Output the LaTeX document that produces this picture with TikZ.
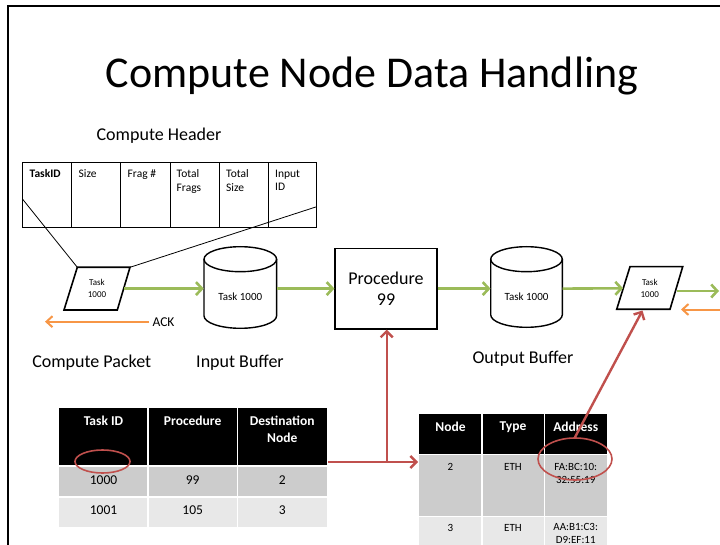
\documentclass[tikz,border=0pt]{standalone}
\usepackage{fontspec}
\setmainfont{Carlito}
\usetikzlibrary{arrows.meta,shapes.geometric}
\definecolor{grn}{RGB}{155,187,89}
\definecolor{org}{RGB}{247,150,70}
\definecolor{rd}{RGB}{192,80,77}
\definecolor{rowA}{RGB}{204,204,204}
\definecolor{rowB}{RGB}{232,232,232}
\begin{document}
\begin{tikzpicture}[x=1pt,y=-1pt,
  garrow/.style={draw=grn,line width=2.6pt,-{Straight Barb[length=6pt,width=13pt]}},
  oarrow/.style={draw=org,line width=2pt,-{Straight Barb[length=6pt,width=11pt]}},
  rline/.style={draw=rd,line width=2.4pt},
  rarrow/.style={rline,-{Straight Barb[length=6pt,width=12pt]}},
  redell/.style={ellipse,draw=rd,line width=1.6pt,inner sep=0pt},
  ghost/.style={rectangle,inner sep=0pt},
  big/.style={font=\fontsize{18}{21}\selectfont,align=center},
  small/.style={font=\fontsize{9}{11.5}\selectfont,align=center},
  mid/.style={font=\fontsize{11}{13}\selectfont,align=center},
  hcell/.style={font=\fontsize{11.5}{13.5}\selectfont,align=left,anchor=north west,inner sep=0pt},
  thead/.style={font=\bfseries\fontsize{13.5}{16.7}\selectfont,text=white,align=center,inner sep=0pt},
  tcell/.style={font=\fontsize{13.5}{16}\selectfont,inner sep=0pt},
  tcellb/.style={font=\fontsize{11}{13}\selectfont,align=center,inner sep=0pt},
  sep/.style={draw=white,line width=1.5pt},
  shapeline/.style={draw=black,line width=1.4pt},
]
\useasboundingbox (0,0) rectangle (720,545);

% frame
\draw[line width=1.8pt] (8,546) -- (8,6) -- (721,6);

% title
\node (title) at (372,76) {\fontsize{44}{50}\selectfont Compute Node Data Handling};

% compute header
\node[big] (hlabel) at (159,136) {Compute Header};
\draw[line width=1pt] (22.7,162.3) rectangle (316.7,227.7);
\foreach \cx in {71.7,120.7,170,219,268.3} \draw[line width=1pt] (\cx,162.3) -- (\cx,227.7);
\node[hcell,font=\bfseries\fontsize{11.5}{13.5}\selectfont] (c1) at (29.5,169.5) {TaskID};
\node[hcell] (c2) at (78.5,169.5) {Size};
\node[hcell] (c3) at (127.5,169.5) {Frag \#};
\node[hcell] (c4) at (176.5,169.5) {Total\\Frags};
\node[hcell] (c5) at (226,169.5) {Total\\Size};
\node[hcell] (c6) at (275,169.5) {Input\\ID};

% compute packet
\coordinate (pkTL) at (77.3,267.3);
\coordinate (pkTR) at (130,267.3);
\coordinate (pkBR) at (117.3,310);
\coordinate (pkBL) at (64,310);
\coordinate (hL) at (22.7,199.3);
\coordinate (hR) at (316.7,206.7);
\draw[line width=0.8pt] (hL) -- (pkTL);
\draw[line width=0.8pt] (hR) -- (pkTR);
\draw[line width=1.6pt] (pkTL) -- (pkTR) -- (pkBR) -- (pkBL) -- cycle;
\node[ghost,small,minimum width=53,minimum height=42.7] (pk) at (97,288.6) {Task\\1000};

% input buffer
\node[ghost,minimum width=72.7,minimum height=81.6] (ib) at (240.3,288.6) {};
\draw[shapeline] (204,259.2) -- (204,315.8) arc[start angle=180,end angle=0,x radius=36.3,y radius=12.5] -- (276.6,259.2);
\draw[shapeline] (240.3,259.2) ellipse[x radius=36.3,y radius=12.5];
\node[mid] (ibt) at (240.3,297) {Task 1000};

% procedure
\node[draw,line width=1.4pt,big,minimum width=101.7,minimum height=80.7,inner sep=0pt] (proc) at (386,288.6) {Procedure\\99};

% output buffer
\node[ghost,minimum width=71.6,minimum height=80.6] (ob) at (526.5,288.6) {};
\draw[shapeline] (490.7,259.2) -- (490.7,314.8) arc[start angle=180,end angle=0,x radius=35.8,y radius=12.5] -- (562.3,259.2);
\draw[shapeline] (526.5,259.2) ellipse[x radius=35.8,y radius=12.5];
\node[mid] (obt) at (526.5,297) {Task 1000};

% output packet
\coordinate (opTL) at (630,266.7);
\coordinate (opTR) at (682.7,266.7);
\coordinate (opBR) at (670,309.3);
\coordinate (opBL) at (616.7,309.3);
\draw[line width=1.6pt] (opTL) -- (opTR) -- (opBR) -- (opBL) -- cycle;
\node[ghost,small,minimum width=53,minimum height=42.6] (op) at (649.8,288.3) {Task\\1000};

% green flow
\draw[garrow] (pk.east) -- (ib.west);
\draw[garrow] (ib.east) -- (proc.west);
\draw[garrow] (proc.east) -- (ob.west);
\draw[garrow] (ob.east) -- (op.west);
\coordinate (outR) at (719,291);
\draw[garrow] (op.east |- outR) -- (outR);

% orange acks
\coordinate (ackR) at (721,309.5);
\coordinate (ackRend) at (681,309.5);
\draw[oarrow] (ackR) -- (ackRend);
\node[font=\fontsize{13.5}{16}\selectfont] (ack) at (163.5,322) {ACK};
\coordinate (ackL) at (45,321.7);
\draw[oarrow] (ack.west |- ackL) -- (ackL);

% labels
\node[big] (lpk) at (91.7,362.7) {Compute Packet};
\node[big] (lib) at (240,362.7) {Input Buffer};
\node[big] (lob) at (523,359) {Output Buffer};

% table 1
\fill[black] (59,408) rectangle (327,466);
\fill[rowA] (59,466) rectangle (327,497);
\fill[rowB] (59,497) rectangle (327,527);
\draw[sep] (59,466) -- (327,466);
\draw[sep] (59,497) -- (327,497);
\draw[sep,line width=1.1pt] (148,408) -- (148,527);
\draw[sep,line width=1.1pt] (237.5,408) -- (237.5,527);
\node[thead] (t1h1) at (103.5,421) {Task ID};
\node[thead] (t1h2) at (192.7,421) {Procedure};
\node[thead] (t1h3) at (282.2,429.4) {Destination\\Node};
\node[tcell] (t1a1) at (103.5,480) {1000};
\node[tcell] (t1a2) at (192.7,480) {99};
\node[tcell] (t1a3) at (282.2,480) {2};
\node[tcell] (t1b1) at (103.5,510) {1001};
\node[tcell] (t1b2) at (192.7,510) {105};
\node[tcell] (t1b3) at (282.2,510) {3};

% table 2
\fill[black] (419,414) rectangle (607,454);
\fill[rowA] (419,454) rectangle (607,516);
\fill[rowB] (419,516) rectangle (607,546);
\draw[sep] (419,454.5) -- (607,454.5);
\draw[sep] (419,516.5) -- (607,516.5);
\draw[sep,line width=1.1pt] (482,414) -- (482,546);
\draw[sep,line width=1.1pt] (544.3,414) -- (544.3,546);
\node[thead] (t2h1) at (450.5,426.7) {Node};
\node[thead] (t2h2) at (513,426.7) {Type};
\node[thead] (t2h3) at (575.7,426.7) {Address};
\node[tcellb] (t2a1) at (450.5,466.7) {2};
\node[tcellb] (t2a2) at (513,466.7) {ETH};
\node[tcellb] (t2a3) at (575.7,473.5) {FA:BC:10:\\32:55:19};
\node[tcellb] (t2b1) at (450.5,527.7) {3};
\node[tcellb] (t2b2) at (513,527.7) {ETH};
\node[tcellb] (t2b3) at (575.7,533.5) {AA:B1:C3:\\D9:EF:11};

% red lookup arrows
\node[redell,minimum width=55,minimum height=23] (e1) at (102.5,461.5) {};
\node[redell,minimum width=74,minimum height=42] (e2) at (575,459) {};
\coordinate (t1r) at (328,462);
\coordinate (jn) at (386.7,462);
\coordinate (t2l) at (418,462);
\coordinate (opin) at (642.5,310.5);
\draw[rline] (t1r) -- (jn);
\draw[rarrow] (jn) -- (jn |- proc.south);
\draw[rarrow] (jn) -- (t2l);
\draw[rarrow] (e2.north) -- (opin);
\end{tikzpicture}
\end{document}
